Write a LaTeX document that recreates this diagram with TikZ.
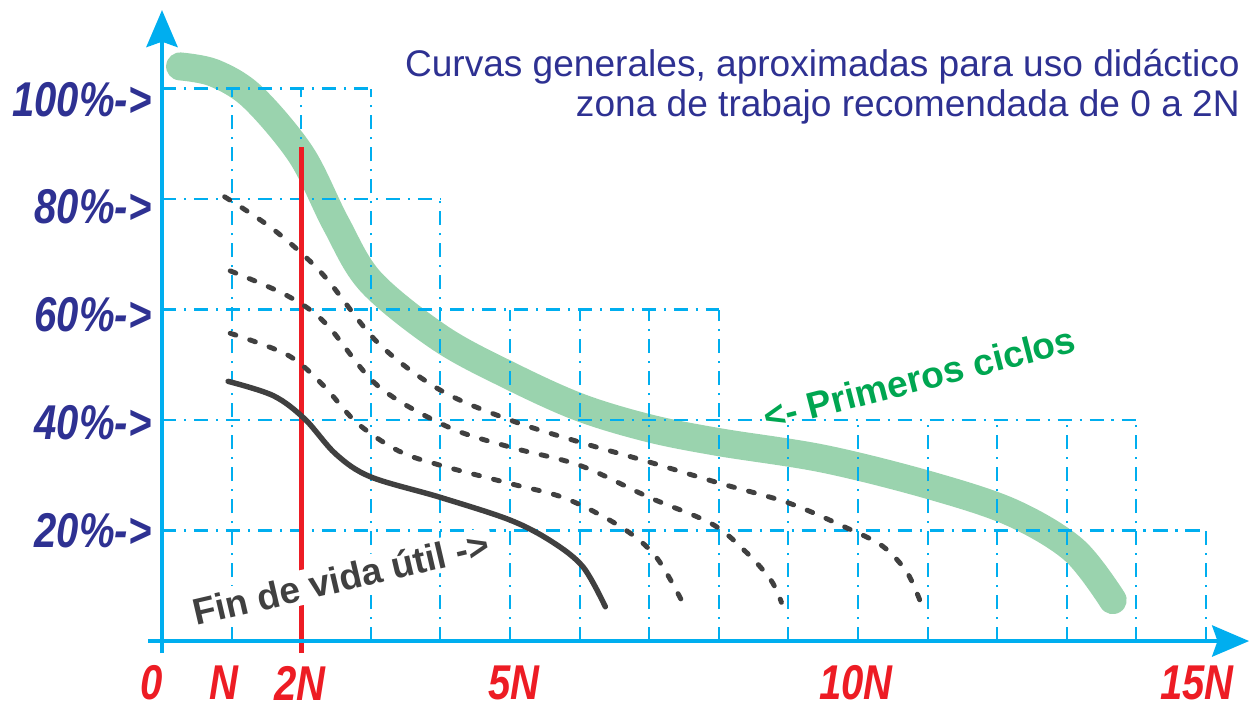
\documentclass[tikz,border=0pt]{standalone}
\usepackage{fontspec}
\setmainfont{Liberation Sans}
\newfontfamily\narrowsans[FakeStretch=0.82]{Liberation Sans}
\usetikzlibrary{arrows.meta}

\definecolor{axiscyan}{RGB}{0,174,239}
\definecolor{labelblue}{RGB}{46,49,146}
\definecolor{ticred}{RGB}{237,28,36}
\definecolor{bandgreen}{RGB}{154,211,174}
\definecolor{textgreen}{RGB}{0,166,81}
\definecolor{curvegray}{RGB}{64,64,64}

\begin{document}
\begin{tikzpicture}[x=1.392cm, y=0.1105cm,
    gridline/.style={axiscyan, line width=1.2pt, dash pattern=on 8pt off 4.5pt on 1.2pt off 4.5pt},
    axisline/.style={axiscyan, line width=2.8pt, -{Stealth[length=21pt, width=17.6pt, inset=3pt]}},
    dotcurve/.style={curvegray, line width=2.8pt, line cap=round, dash pattern=on 3.4pt off 8.3pt},
    pctlabel/.style={anchor=east, inner sep=0pt, text=labelblue, font=\narrowsans\bfseries\itshape\fontsize{27.8}{30}\selectfont},
    ticklabel/.style={inner sep=0pt, text=ticred, font=\narrowsans\bfseries\itshape\fontsize{27.8}{30}\selectfont},
    notelabel/.style={anchor=base, inner sep=2pt, font=\bfseries\fontsize{21.1}{24}\selectfont}]
        \useasboundingbox (-2.3276,-11.765) rectangle (15.7184,116.018);

        % first cycles band
        \draw[bandgreen, line width=15.9pt, line cap=round] plot[smooth, tension=0.55] coordinates {(0.26,104) (0.75,102.8) (1.3,98.5) (2,88) (2.5,75.5) (3,65) (4,54.8) (5,48) (6,42.3) (7,38.5) (8,36) (9.5,33) (11,28.3) (12.2,23.3) (13.1,16.5) (13.66,7.4)};

        % grid
        \foreach \y/\len in {100/3, 80/4, 60/8, 40/14, 20/15}
            \draw[gridline] (0,\y) -- (\len,\y);
        \foreach \x/\h in {1/100, 2/100, 3/100, 4/80, 5/60, 6/60, 7/60, 8/60, 9/40, 10/40, 11/40, 12/40, 13/40, 14/40, 15/20}
            \draw[gridline] (\x,0) -- (\x,\h);

        % working zone limit
        \draw[ticred, line width=2.8pt] (2,-2.17) -- (2,89.4);
        \node[notelabel, text=curvegray, fill=white, rotate=13.1] (endlife) at (2.615,8.96) {Fin de vida útil ->};

        % intermediate curves
        \draw[dotcurve] plot[smooth, tension=0.55] coordinates {(0.9,80.4) (1.6,74.5) (2.3,66.5) (3.1,54) (4,45.4) (5,40) (6,36) (7,32.4) (8,28.6) (9,25) (9.85,20.4) (10.35,17.2) (10.7,12.5) (10.9,7)};
        \draw[dotcurve] plot[smooth, tension=0.55] coordinates {(0.98,67) (1.8,62.5) (2.35,57.5) (3.1,46.2) (4.1,38.8) (5,35.1) (6,31.8) (7,26) (7.9,21.2) (8.4,16) (8.75,11) (8.9,7)};
        \draw[dotcurve] plot[smooth, tension=0.55] coordinates {(0.98,55.7) (1.8,51.8) (2.3,46.5) (2.8,39.5) (3.4,34.4) (4,31.8) (5,28.5) (5.8,25.8) (6.6,20.6) (7.1,15.2) (7.5,6.5)};

        % end of life curve
        \draw[curvegray, line width=3.1pt, line cap=round] plot[smooth, tension=0.55] coordinates {(0.95,47) (1.6,44.4) (2.05,40.2) (2.5,33.8) (3,29.7) (4,26) (5,21.9) (5.6,18) (6.05,13.4) (6.37,6.2)};

        % axes
        \draw[axisline] (0,-2.17) -- (0,114.2);
        \draw[axisline] (-0.2,0) -- (15.62,0);

        % labels
        \foreach \y/\v/\name in {97.9/100/p100, 78.7/80/p80, 59/60/p60, 39.5/40/p40, 19.9/20/p20}
            \node[pctlabel] (\name) at (-0.144,\y) {\v\%->};
        \foreach \x/\t/\name in {-0.144/0/t0, 0.89/N/t1, 1.98/2N/t2, 5.06/5N/t5, 9.97/10N/t10, 14.87/15N/t15}
            \node[ticklabel] (\name) at (\x,-7.6) {\t};
        \node[notelabel, text=textgreen, rotate=14.4] (firstcycles) at (10.93,45.3) {<- Primeros ciclos};
        \node[anchor=base east, inner sep=0pt, text=labelblue, font=\fontsize{21.1}{24}\selectfont] (title) at (15.49,102.13) {Curvas generales, aproximadas para uso didáctico};
        \node[anchor=base east, inner sep=0pt, text=labelblue, font=\fontsize{21.1}{24}\selectfont] (subtitle) at (15.49,94.9) {zona de trabajo recomendada de 0 a 2N};

    \end{tikzpicture}
\end{document}
